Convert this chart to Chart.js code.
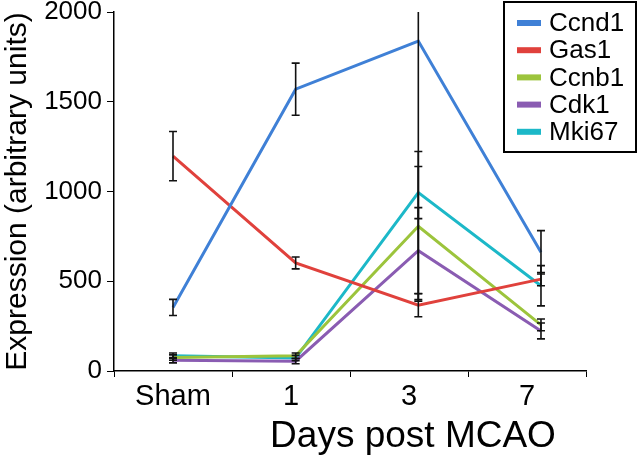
<!DOCTYPE html>
<html>
<head>
<meta charset="utf-8">
<script src="https://cdn.jsdelivr.net/npm/chart.js@4/dist/chart.umd.min.js"></script>
<style>
html, body { margin: 0; padding: 0; background: #fff; }
#wrap { width: 640px; height: 460px; }
</style>
</head>
<body>
<div id="wrap"><canvas id="chart"></canvas></div>
<script>
// Categories and series
const days = ['Sham', '1', '3', '7'];
const names = ['Ccnd1', 'Gas1', 'Ccnb1', 'Cdk1', 'Mki67'];

const ccnd1 = [354, 1570, 1838, 661];
const gas1  = [1197, 602, 367, 512];
const ccnb1 = [75, 85, 806, 257];
const cdk1  = [60, 55, 670, 223];
const mki67 = [85, 72, 994, 475];

// Error bar half-widths
const ccnd1Err = [45, 145, 1440, 121];
const gas1Err  = [137, 33, 65, 37];
const ccnb1Err = [15, 15, 417, 33];
const cdk1Err  = [15, 15, 240, 44];
const mki67Err = [15, 15, 145, 112];

const yTicks = [0, 500, 1000, 1500, 2000];

const values = [ccnd1, gas1, ccnb1, cdk1, mki67];
const errors = [ccnd1Err, gas1Err, ccnb1Err, cdk1Err, mki67Err];
const colors = ['#3f80d6', '#e0413c', '#9cc43c', '#8a5cb2', '#1cb8c8'];

const FONT = "'Liberation Sans', Arial, sans-serif";

// Error bars drawn with the chart's own scales
const errorBars = {
    id: 'errorBars',
    afterDatasetsDraw(chart) {
        const ctx = chart.ctx;
        const xs = chart.scales.xd, ys = chart.scales.y;
        const a = chart.chartArea;
        ctx.save();
        ctx.beginPath();
        ctx.rect(a.left, a.top, a.right - a.left, a.bottom - a.top + 2);
        ctx.clip();
        ctx.strokeStyle = '#111';
        ctx.lineWidth = 1.6;
        values.forEach((vals, s) => {
            vals.forEach((v, i) => {
                const x = xs.getPixelForValue(i);
                const yHi = ys.getPixelForValue(v + errors[s][i]);
                const yLo = ys.getPixelForValue(v - errors[s][i]);
                ctx.beginPath();
                ctx.moveTo(x, yHi); ctx.lineTo(x, yLo);
                ctx.moveTo(x - 4, yHi); ctx.lineTo(x + 4, yHi);
                ctx.moveTo(x - 4, yLo); ctx.lineTo(x + 4, yLo);
                ctx.stroke();
            });
        });
        ctx.restore();
    }
};

// Boxed legend in the top right corner, plus the x axis title
const boxLegend = {
    id: 'boxLegend',
    afterDraw(chart) {
        const ctx = chart.ctx;
        ctx.save();
        ctx.fillStyle = '#fff';
        ctx.fillRect(504, 2, 132, 150);
        ctx.strokeStyle = '#000';
        ctx.lineWidth = 2;
        ctx.strokeRect(504, 2, 132, 150);
        ctx.font = '26px ' + FONT;
        ctx.textBaseline = 'middle';
        chart.data.datasets.forEach((ds, i) => {
            const y = 23 + i * 27.2;
            ctx.fillStyle = ds.borderColor;
            ctx.fillRect(517, y - 3, 24, 6);
            ctx.fillStyle = '#000';
            ctx.fillText(ds.label, 549, y + 1);
        });

        ctx.font = '37px ' + FONT;
        ctx.textAlign = 'center';
        ctx.textBaseline = 'alphabetic';
        ctx.fillStyle = '#000';
        const a = chart.chartArea;
        ctx.fillText('Days post MCAO', (a.left + a.right) / 2 + 63, 447);
        ctx.restore();
    }
};

new Chart(document.getElementById('chart'), {
    type: 'line',
    data: {
        labels: days,
        datasets: names.map((n, s) => ({
            label: n,
            data: values[s].map((v, i) => ({ x: i, y: v })),
            borderColor: colors[s],
            backgroundColor: colors[s],
            borderWidth: 3,
            pointRadius: 0,
            tension: 0,
            xAxisID: 'xd',
            yAxisID: 'y'
        }))
    },
    options: {
        responsive: true,
        maintainAspectRatio: false,
        animation: false,
        layout: { padding: { top: 12, right: 54, left: 0, bottom: 0 } },
        plugins: {
            legend: { display: false },
            tooltip: { enabled: false }
        },
        scales: {
            x: {
                type: 'category',
                labels: days,
                offset: true,
                grid: { drawOnChartArea: false, drawTicks: true, tickLength: 6, color: '#000', offset: true },
                border: { color: '#000', width: 1.5 },
                ticks: { color: '#000', font: { family: FONT, size: 29 }, padding: 3 },
                afterFit(scale) { scale.height = 89; }
            },
            xd: {
                type: 'linear',
                display: false,
                min: -0.481,
                max: 3.367
            },
            y: {
                min: 0,
                max: 2000,
                afterBuildTicks(scale) { scale.ticks = yTicks.map(v => ({ value: v })); },
                grid: { drawOnChartArea: false, drawTicks: true, tickLength: 7, color: '#000' },
                border: { color: '#000', width: 1.5 },
                ticks: {
                    color: '#000',
                    font: { family: FONT, size: 26 },
                    padding: 5,
                    callback: v => String(v)
                },
                title: {
                    display: true,
                    text: 'Expression (arbitrary units)',
                    color: '#000',
                    font: { family: FONT, size: 30 },
                    padding: { top: 0, bottom: 0 }
                },
                afterFit(scale) {
                    scale.width = 114;
                    scale.paddingTop = 0;
                    scale.paddingBottom = 0;
                }
            }
        }
    },
    plugins: [errorBars, boxLegend]
});
</script>
</body>
</html>
